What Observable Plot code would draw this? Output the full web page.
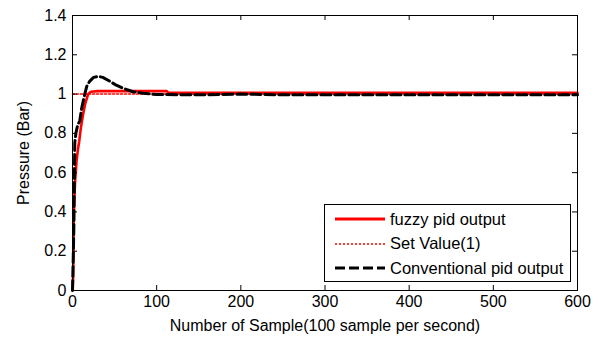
<!DOCTYPE html>
<html>
<head>
<meta charset="utf-8">
<script src="https://cdn.jsdelivr.net/npm/d3@7"></script>
<script src="https://cdn.jsdelivr.net/npm/@observablehq/plot@0.6"></script>
<style>
  html, body { margin: 0; padding: 0; background: #fff; }
  #wrap { position: relative; width: 598px; height: 338px; font-family: "Liberation Sans", Arial, sans-serif; }
  #legend { position: absolute; left: 324px; top: 204px; width: 247px; height: 78px; border: 1px solid #000; background: #fff; box-sizing: border-box; font-size: 16.5px; color: #000; }
  #legend .row { position: absolute; left: 0; height: 20px; display: flex; align-items: center; }
  #legend svg { display: block; margin-left: 10px; margin-right: 5px; }
</style>
</head>
<body>
<div id="wrap"></div>
<script>
// Fuzzy PID output
const fuzzyX = [0, 0.8, 1.6, 3, 4.8, 6.5, 8, 10, 12.7, 15, 18.6, 22, 30, 50, 80, 112, 114, 150, 200, 300, 400, 500, 600];
const fuzzyY = [0, 0.07, 0.39, 0.55, 0.66, 0.72, 0.76, 0.83, 0.9, 0.95, 1.0, 1.012, 1.015, 1.015, 1.015, 1.015, 1.006, 1.006, 1.006, 1.006, 1.006, 1.006, 1.006];
// Set value
const setX = [0, 600];
const setY = [1, 1];
// Conventional PID output
const convX = [0, 0.8, 1.6, 2.7, 4, 6, 8.7, 11, 14.6, 17, 20.6, 25, 30.5, 36, 44, 52, 60, 72, 84, 100, 130, 160, 200, 250, 300, 400, 500, 600];
const convY = [0, 0.15, 0.32, 0.75, 0.8, 0.84, 0.865, 0.93, 1.0, 1.04, 1.066, 1.085, 1.09, 1.085, 1.066, 1.045, 1.03, 1.012, 1.004, 0.998, 0.996, 0.997, 1.0, 0.996, 0.996, 0.996, 0.996, 0.996];

const xTicks = [0, 100, 200, 300, 400, 500, 600];
const yTicks = [0, 0.2, 0.4, 0.6, 0.8, 1, 1.2, 1.4];

const legendLabels = ["fuzzy pid output", "Set Value(1)", "Conventional pid output"];

const W = 598, H = 338, mL = 72, mR = 21, mT = 15, mB = 48;
const pw = W - mL - mR, ph = H - mT - mB;

const fuzzy = fuzzyX.map((x, i) => ({x, y: fuzzyY[i]}));
const setv = setX.map((x, i) => ({x, y: setY[i]}));
const conv = convX.map((x, i) => ({x, y: convY[i]}));

const chart = Plot.plot({
  width: W, height: H,
  marginLeft: mL, marginRight: mR, marginTop: mT, marginBottom: mB,
  style: { fontFamily: "'Liberation Sans', Arial, sans-serif", fontSize: "16px", color: "#000", background: "#fff" },
  x: { domain: [0, 600], ticks: xTicks },
  y: { domain: [0, 1.4], ticks: yTicks },
  marks: [
    Plot.line(fuzzy, {x: "x", y: "y", stroke: "#ff0000", strokeWidth: 2.6}),
    Plot.line(setv, {x: "x", y: "y", stroke: "#ff0000", strokeWidth: 1.6, strokeDasharray: "2,2"}),
    Plot.line(conv, {x: "x", y: "y", stroke: "#000", strokeWidth: 3, strokeDasharray: "10,4"}),
    Plot.frame({stroke: "#000", strokeWidth: 1}),
    Plot.tickX(xTicks, {x: d => d, stroke: "#000", insetTop: ph - 5}),
    Plot.tickX(xTicks, {x: d => d, stroke: "#000", insetBottom: ph - 5}),
    Plot.tickY(yTicks, {y: d => d, stroke: "#000", insetRight: pw - 5}),
    Plot.tickY(yTicks, {y: d => d, stroke: "#000", insetLeft: pw - 5}),
    Plot.axisX(xTicks, {tickSize: 0, tickPadding: 5, tickFormat: d => String(d),
      label: "Number of Sample(100 sample per second)", labelAnchor: "center", labelArrow: "none", labelOffset: 40}),
    Plot.axisY(yTicks, {tickSize: 0, tickPadding: 6, tickFormat: d => String(d),
      label: "Pressure (Bar)", labelAnchor: "center", labelArrow: "none", labelOffset: 55})
  ]
});
const wrap = document.getElementById("wrap");
wrap.appendChild(chart);

// Legend
const legend = document.createElement("div");
legend.id = "legend";
const styles = [
  {stroke: "#ff0000", width: 3, dash: ""},
  {stroke: "#ff0000", width: 1.6, dash: "2,2"},
  {stroke: "#000", width: 3, dash: "10,4"}
];
legendLabels.forEach((lab, i) => {
  const row = document.createElement("div");
  row.className = "row";
  row.style.top = (4 + i * 24.5) + "px";
  const s = styles[i];
  row.innerHTML = `<svg width="50" height="10"><line x1="0" x2="50" y1="5" y2="5" stroke="${s.stroke}" stroke-width="${s.width}" ${s.dash ? `stroke-dasharray="${s.dash}"` : ""}/></svg><span>${lab}</span>`;
  legend.appendChild(row);
});
wrap.appendChild(legend);
</script>
</body>
</html>
